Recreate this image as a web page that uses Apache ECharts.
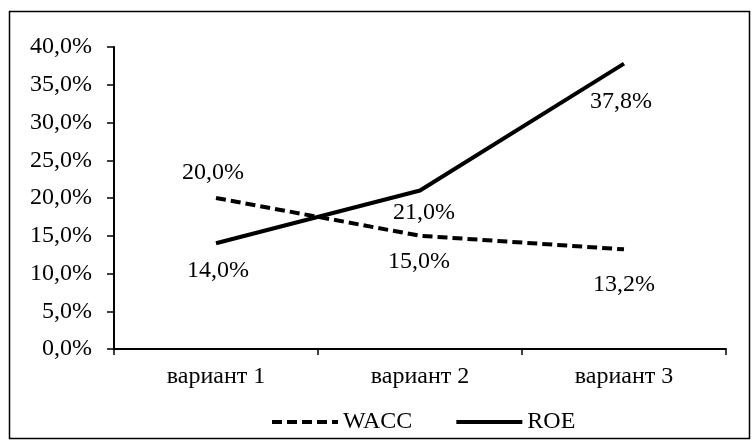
<!DOCTYPE html>
<html>
<head>
<meta charset="utf-8">
<script src="https://cdn.jsdelivr.net/npm/echarts@6/dist/echarts.min.js"></script>
<style>
  html, body { margin: 0; padding: 0; background: #fff; }
  #chart { width: 754px; height: 443px; }
</style>
</head>
<body>
<div id="chart"></div>
<script>
// Categories and series values (percent)
var categories = ['вариант 1', 'вариант 2', 'вариант 3'];
var waccValues = [20.0, 15.0, 13.2];
var roeValues = [14.0, 21.0, 37.8];

// Label placement relative to each point
var waccLabelOffsets = [[-3, -25], [-1, 26], [0, 35]];
var roeLabelOffsets = [[2, 27], [4, 22], [-3, 38]];

var FONT = '"Liberation Serif", "Times New Roman", serif';
var FS = 24;
var INVISIBLE = 'rgba(0,0,0,0)';

function pct(v) {
  return v.toFixed(1).replace('.', ',') + '%';
}

function buildData(values, offsets) {
  return values.map(function (v, i) {
    return {
      value: v,
      label: { offset: offsets[i] }
    };
  });
}

var chart = echarts.init(document.getElementById('chart'), null, { renderer: 'canvas' });

var labelStyle = {
  show: true,
  position: 'inside',
  color: '#000',
  fontFamily: FONT,
  fontSize: FS,
  formatter: function (p) { return pct(p.value); }
};

chart.setOption({
  animation: false,
  backgroundColor: '#fff',
  graphic: [{
    type: 'rect',
    left: 7, top: 9,
    shape: { width: 740, height: 427 },
    style: { fill: 'none', stroke: '#000', lineWidth: 1.5 },
    silent: true
  }],
  grid: { left: 114, right: 28, top: 47, bottom: 94 },
  legend: {
    left: 265,
    top: 405,
    itemWidth: 66,
    itemHeight: 8,
    itemGap: 42,
    textStyle: { color: '#000', fontFamily: FONT, fontSize: FS },
    itemStyle: { color: INVISIBLE, borderColor: INVISIBLE },
    lineStyle: { width: 4, color: '#000' },
    data: ['WACC', 'ROE']
  },
  xAxis: {
    type: 'category',
    data: categories,
    boundaryGap: true,
    axisLine: { lineStyle: { color: '#000', width: 2 } },
    axisTick: { show: true, length: 6, lineStyle: { color: '#000', width: 1.5 } },
    axisLabel: { color: '#000', fontFamily: FONT, fontSize: FS, margin: 16 },
    splitLine: { show: false }
  },
  yAxis: {
    type: 'value',
    min: 0,
    max: 40,
    interval: 5,
    axisLine: { show: true, lineStyle: { color: '#000', width: 2 } },
    axisTick: { show: true, length: 7, lineStyle: { color: '#000', width: 1.5 } },
    axisLabel: {
      color: '#000', fontFamily: FONT, fontSize: FS, margin: 22,
      formatter: function (v) { return pct(v); }
    },
    splitLine: { show: false }
  },
  series: [
    {
      name: 'WACC',
      type: 'line',
      data: buildData(waccValues, waccLabelOffsets),
      symbol: 'circle',
      symbolSize: 2,
      itemStyle: { color: INVISIBLE },
      lineStyle: { color: '#000', width: 4, type: [10, 5] },
      label: labelStyle
    },
    {
      name: 'ROE',
      type: 'line',
      data: buildData(roeValues, roeLabelOffsets),
      symbol: 'circle',
      symbolSize: 2,
      itemStyle: { color: INVISIBLE },
      lineStyle: { color: '#000', width: 4, type: 'solid' },
      label: labelStyle
    }
  ]
});
</script>
</body>
</html>
